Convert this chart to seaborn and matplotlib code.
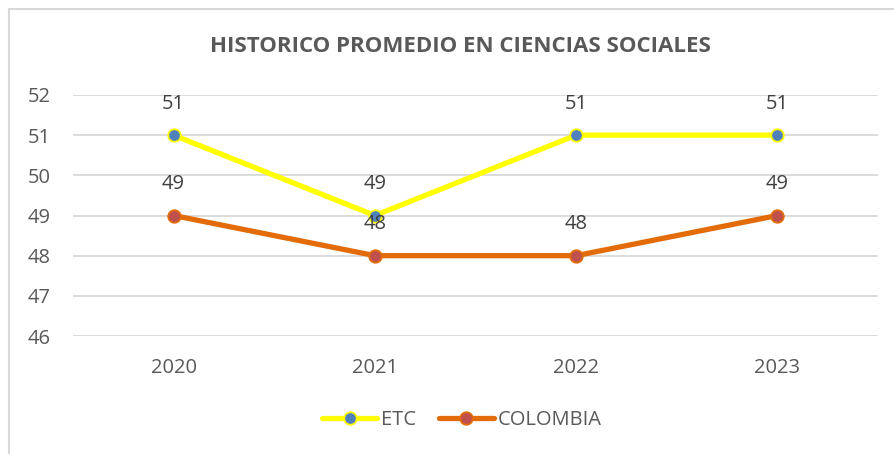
import matplotlib
matplotlib.use("Agg")
import matplotlib.pyplot as plt
import seaborn as sns
import pandas as pd
from matplotlib.lines import Line2D

years = ["2020", "2021", "2022", "2023"]
etc = [51, 49, 51, 51]
colombia = [49, 48, 48, 49]
series_names = ["ETC", "COLOMBIA"]
title = "HISTORICO PROMEDIO EN CIENCIAS SOCIALES"

df = pd.DataFrame({
    "year": years * 2,
    "value": etc + colombia,
    "serie": [series_names[0]] * len(years) + [series_names[1]] * len(years),
})

sns.set_style("white")
plt.rcParams['font.family'] = ['Open Sans', 'DejaVu Sans']

fig = plt.figure(figsize=(8.94, 4.54), dpi=100)
ax = fig.add_axes([73 / 894, 1 - 336 / 454, (878 - 73) / 894, (336 - 95) / 454])

line_col = {"ETC": "#FFFF00", "COLOMBIA": "#E36C09"}
face_col = {"ETC": "#4F81BD", "COLOMBIA": "#C0504D"}

for name in series_names:
    sub = df[df["serie"] == name]
    sns.lineplot(data=sub, x="year", y="value", ax=ax, color=line_col[name],
                 linewidth=3.8, marker="o", markersize=9,
                 markerfacecolor=face_col[name], markeredgecolor=line_col[name],
                 markeredgewidth=1.3, sort=False, legend=False, zorder=3)
    for x, v in zip(sub["year"], sub["value"]):
        ax.annotate(f"{v}", (x, v), xytext=(0, 22.5), textcoords="offset points",
                    ha="center", va="center", fontsize=14.5, color="#404040", zorder=4)

ax.set_xlim(-0.5, len(years) - 0.5)
ax.set_ylim(46, 52)
ax.set_yticks(range(46, 53))
ax.grid(axis="y", color="#D9D9D9", linewidth=1.3)
ax.grid(axis="x", visible=False)
for s in ax.spines.values():
    s.set_visible(False)
ax.tick_params(axis="y", length=0, pad=16, labelsize=14.5, labelcolor="#595959")
ax.tick_params(axis="x", length=0, pad=16, labelsize=14.5, labelcolor="#595959")
ax.set_xlabel("")
ax.set_ylabel("")

fig.text(460 / 894, 1 - 47 / 454, title, ha="center", va="center",
         fontsize=16, fontweight="bold", color="#595959")

handles = [Line2D([], [], color=line_col[n], linewidth=3.8, marker="o", markersize=9,
                  markerfacecolor=face_col[n], markeredgecolor=line_col[n],
                  markeredgewidth=1.3) for n in series_names]
fig.legend(handles, series_names, loc="center", bbox_to_anchor=(462 / 894, 1 - 420 / 454),
           ncol=2, frameon=False, fontsize=14.5, labelcolor="#595959",
           handlelength=2.75, handletextpad=0.2, columnspacing=1.1)

# outer chart border (top and left visible)
fig.add_artist(Line2D([8.5 / 894, 8.5 / 894], [0, 1 - 8.5 / 454], transform=fig.transFigure,
                      color="#D9D9D9", linewidth=1.5))
fig.add_artist(Line2D([8.5 / 894, 1], [1 - 8.5 / 454, 1 - 8.5 / 454], transform=fig.transFigure,
                      color="#D9D9D9", linewidth=1.5))

fig.savefig("out.png", dpi=100)
